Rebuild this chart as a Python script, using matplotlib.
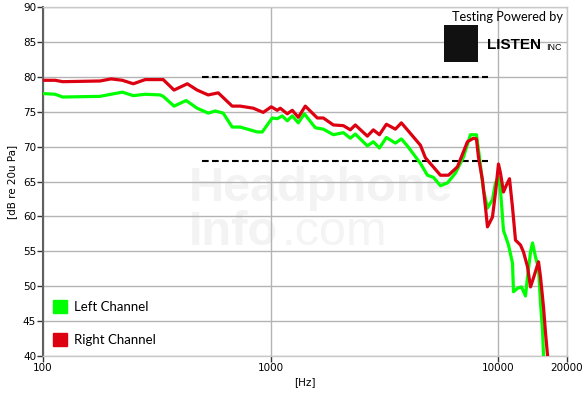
import numpy as np
import matplotlib.pyplot as plt
from matplotlib.patches import Patch, Rectangle

# frequency response values
freq_right = [100, 113, 122, 178, 199, 223, 249, 281, 337, 376, 430, 475, 531, 588, 677, 734,
              838, 927, 1005, 1068, 1101, 1182, 1243, 1321, 1418, 1601, 1701, 1883, 2084, 2236,
              2351, 2656, 2822, 3000, 3220, 3526, 3746, 3981, 4541, 4777, 5561, 6030, 6604, 7307,
              7764, 8003, 8167, 8505, 8769, 8947, 9410, 9701, 10000, 10205, 10519, 10844, 11179,
              11524, 11878, 12494, 12879, 13411, 13825, 14251, 14991, 15298, 15769, 16091, 16421, 16756]
spl_right = [79.5, 79.5, 79.3, 79.4, 79.7, 79.5, 79.0, 79.6, 79.6, 78.1, 79.0, 78.1, 77.4, 77.7, 75.8, 75.8,
             75.5, 74.9, 75.7, 75.2, 75.5, 74.7, 75.2, 74.2, 75.8, 74.1, 74.1, 73.1, 73.0, 72.4,
             73.1, 71.5, 72.4, 71.7, 73.2, 72.5, 73.4, 72.4, 70.2, 68.4, 65.9, 65.9, 67.1, 70.7,
             71.2, 71.1, 68.5, 65.2, 61.3, 58.5, 59.9, 63.4, 67.5, 66.2, 63.5, 64.5, 65.4,
             61.3, 56.6, 55.9, 54.9, 52.8, 49.9, 51.2, 53.5, 51.3, 47.0, 43.3, 40.1, 37.0]

freq_left = [100, 113, 122, 178, 199, 223, 249, 281, 327, 337, 376, 425, 475, 531, 570, 618,
             677, 734, 872, 918, 1015, 1068, 1123, 1182, 1243, 1321, 1404, 1569, 1701, 1883,
             2084, 2236, 2351, 2656, 2822, 3000, 3220, 3526, 3746, 3981, 4541, 4875, 5179, 5561,
             5969, 6471, 7018, 7532, 8003, 8250, 8591, 8947, 9410, 9701, 10000, 10205, 10519,
             11066, 11524, 11640, 12120, 12621, 13142, 13411, 13825, 14108, 14542, 14991, 15298,
             15610, 15769, 16091]
spl_left = [77.6, 77.5, 77.1, 77.2, 77.5, 77.8, 77.3, 77.5, 77.4, 77.2, 75.8, 76.6, 75.5, 74.8, 75.1, 74.8,
            72.8, 72.8, 72.1, 72.1, 74.1, 74.0, 74.4, 73.7, 74.4, 73.4, 74.7, 72.7, 72.5, 71.7,
            72.0, 71.2, 71.8, 70.1, 70.7, 69.8, 71.3, 70.5, 71.1, 70.1, 67.6, 65.9, 65.6, 64.4,
            64.8, 66.2, 68.5, 71.7, 71.7, 68.5, 63.8, 61.2, 62.4, 64.8, 65.6, 63.8, 58.0,
            55.9, 53.3, 49.2, 49.7, 49.9, 48.6, 51.3, 54.9, 56.2, 54.2, 52.6, 47.6,
            43.7, 40.1, 37.0]

target_freq = [500, 9000]
target_upper = 80
target_lower = 68

green = '#00ff00'
red = '#dd0011'

fig = plt.figure(figsize=(5.83, 3.95), dpi=100)
ax = fig.add_axes([0.0738, 0.0987, 0.8988, 0.8836])

# faint watermark
ax.text(0.278, 0.445, 'Headphone', transform=ax.transAxes, fontsize=35, fontweight='bold',
        color='#f3f3f3', family='Liberation Sans', zorder=0)
ax.text(0.278, 0.318, 'Info', transform=ax.transAxes, fontsize=35, fontweight='bold',
        color='#f3f3f3', family='Liberation Sans', zorder=0, va='baseline')
ax.text(0.455, 0.318, '.com', transform=ax.transAxes, fontsize=35,
        color='#f4f4f4', family='Liberation Sans', zorder=0)

ax.plot(freq_left, spl_left, color=green, lw=2.3, zorder=3)
ax.plot(freq_right, spl_right, color=red, lw=2.3, zorder=4)
ax.plot(target_freq, [target_upper] * 2, color='black', lw=1.5, ls=(0, (3.2, 1.6)), zorder=2)
ax.plot(target_freq, [target_lower] * 2, color='black', lw=1.5, ls=(0, (3.2, 1.6)), zorder=2)

ax.set_xscale('log')
ax.set_xlim(100, 20000)
ax.set_ylim(40, 90)
ax.set_xticks([100, 1000, 10000, 20000])
ax.set_xticklabels(['100', '1000', '10000', '20000'])
ax.xaxis.set_minor_locator(plt.NullLocator())
ax.set_yticks(np.arange(40, 91, 5))
ax.grid(True, color='#b4b4b4', lw=1.0)
ax.set_axisbelow(True)
ax.tick_params(axis='both', direction='out', length=4, width=1, color='#333333', labelsize=7.5, pad=1)

for side in ['top', 'right', 'bottom']:
    ax.spines[side].set_color('#c8c8c8')
    ax.spines[side].set_linewidth(1)
ax.spines['left'].set_color('#606060')
ax.spines['left'].set_linewidth(1.5)

ax.set_xlabel('[Hz]', fontsize=7.5, labelpad=3)
ax.set_ylabel('[dB re 20u Pa]', fontsize=7.5, labelpad=4)

handles = [Patch(facecolor=green, edgecolor=green), Patch(facecolor=red, edgecolor=red)]
ax.legend(handles, ['Left Channel', 'Right Channel'], loc='lower left',
          frameon=False, handlelength=1.05, handleheight=1.05, handletextpad=0.55, labelspacing=1.55,
          prop={'family': 'Lato', 'size': 9.5}, borderpad=0, borderaxespad=0.75)

# logo in top right corner
fig.text(0.966, 0.958, 'Testing Powered by', ha='right', va='center', fontsize=9.2, family='Lato')
fig.patches.append(Rectangle((0.762, 0.843), 0.058, 0.094, transform=fig.transFigure,
                             facecolor='#111111', edgecolor='none'))
fig.text(0.836, 0.886, 'LISTEN', ha='left', va='center', fontsize=11, fontweight='bold',
         family='Liberation Sans')
fig.text(0.937, 0.880, 'INC', ha='left', va='center', fontsize=6.5, family='Liberation Sans')

fig.savefig('out.png', dpi=100, facecolor='white')
